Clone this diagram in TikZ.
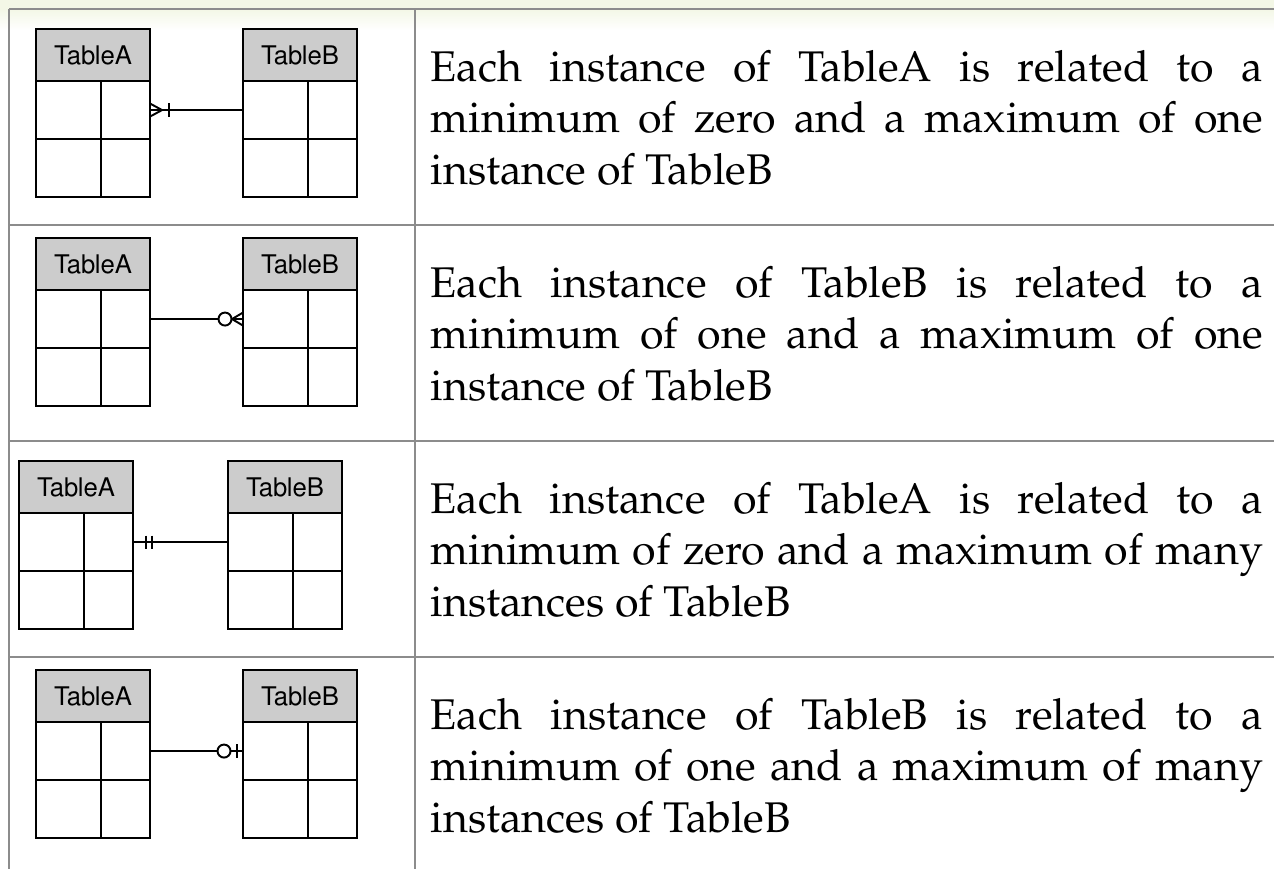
\documentclass[tikz,border=0pt]{standalone}
\usepackage[T1]{fontenc}
\usepackage{mathpazo}
\usepackage{helvet}
\usepackage{xcolor}
\usetikzlibrary{calc,positioning}

\definecolor{rulegray}{RGB}{140,140,140}
\definecolor{hdrgray}{RGB}{204,204,204}
\definecolor{topbg}{RGB}{243,247,230}

% one entity: header with two rows of two cells below
\newcommand{\ertab}[4]{%
  \node[hd] (#1) at (#2,#3) {#4};
  \node[cw,below right=0pt and 0pt of #1.south west] (#1-11) {};
  \node[cn,right=0pt of #1-11] (#1-12) {};
  \node[cw,below=0pt of #1-11] (#1-21) {};
  \node[cn,right=0pt of #1-21] (#1-22) {};
}

\begin{document}
\begin{tikzpicture}[x=0.01cm,y=-0.01cm]
  \tikzset{ hd/.style={draw,fill=hdrgray,line width=0.55pt,outer sep=0pt,inner sep=0pt,
      minimum width=1.14cm,minimum height=0.52cm,anchor=north west,font=\fontsize{7.3pt}{8pt}\sffamily},
    cl/.style={draw,line width=0.55pt,outer sep=0pt,inner sep=0pt,minimum height=0.58cm},
    cw/.style={cl,minimum width=0.65cm},
    cn/.style={cl,minimum width=0.49cm},
    conn/.style={line width=0.55pt},
    desc/.style={text width=8.32cm,align=justify,inner sep=0pt,anchor=base west,
      font=\fontsize{12.2pt}{14.65pt}\selectfont},
    grid/.style={draw=rulegray,line width=0.6pt},
  }
  \useasboundingbox (0,0) rectangle (1274,869);
  \fill[topbg] (0,0) rectangle (1274,9);
  \shade[top color=topbg,bottom color=white] (0,9) rectangle (1274,30);

  % the table lines
  \draw[grid] (9,9) -- (1274,9);
  \draw[grid] (9,9) -- (9,869);
  \draw[grid] (415,9) -- (415,869);
  \foreach \y in {225,441,657}
    \draw[grid] (9,\y) -- (1274,\y);

  % first row
  \ertab{a1}{36}{29}{TableA}
  \ertab{b1}{243}{29}{TableB}
  \draw[conn] (a1-12.east) -- (b1-11.west);
  \draw[conn] ($(a1-12.east)+(0,-6.5)$) -- ($(a1-12.east)+(12,0)$) -- ($(a1-12.east)+(0,6.5)$);
  \draw[conn] ($(a1-12.east)+(19,-7)$) -- ++(0,14);
  \node[desc] (t1) at (430,81) {Each instance of TableA is related to a\linebreak
    minimum of zero and a maximum of one\linebreak instance of TableB};

  % second row
  \ertab{a2}{36}{238}{TableA}
  \ertab{b2}{243}{238}{TableB}
  \draw[conn] (a2-12.east) -- (b2-11.west);
  \draw[conn] ($(b2-11.west)+(0,-6.5)$) -- ($(b2-11.west)+(-11,0)$) -- ($(b2-11.west)+(0,6.5)$);
  \draw[conn,fill=white] ($(b2-11.west)+(-18,0)$) circle (6.5);
  \node[desc] (t2) at (430,297) {Each instance of TableB is related to a\linebreak
    minimum of one and a maximum of one\linebreak instance of TableB};

  % third row
  \ertab{a3}{19}{461}{TableA}
  \ertab{b3}{228}{461}{TableB}
  \draw[conn] (a3-12.east) -- (b3-11.west);
  \draw[conn] ($(a3-12.east)+(13,-6.5)$) -- ++(0,13);
  \draw[conn] ($(a3-12.east)+(19,-6.5)$) -- ++(0,13);
  \node[desc] (t3) at (430,513) {Each instance of TableA is related to a\linebreak
    minimum of zero and a maximum of many\linebreak instances of TableB};

  % fourth row
  \ertab{a4}{36}{670}{TableA}
  \ertab{b4}{243}{670}{TableB}
  \draw[conn] (a4-12.east) -- (b4-11.west);
  \draw[conn] ($(b4-11.west)+(-6,-7)$) -- ++(0,14);
  \draw[conn,fill=white] ($(b4-11.west)+(-19,0)$) circle (6.5);
  \node[desc] (t4) at (430,729) {Each instance of TableB is related to a\linebreak
    minimum of one and a maximum of many\linebreak instances of TableB};
\end{tikzpicture}
\end{document}
